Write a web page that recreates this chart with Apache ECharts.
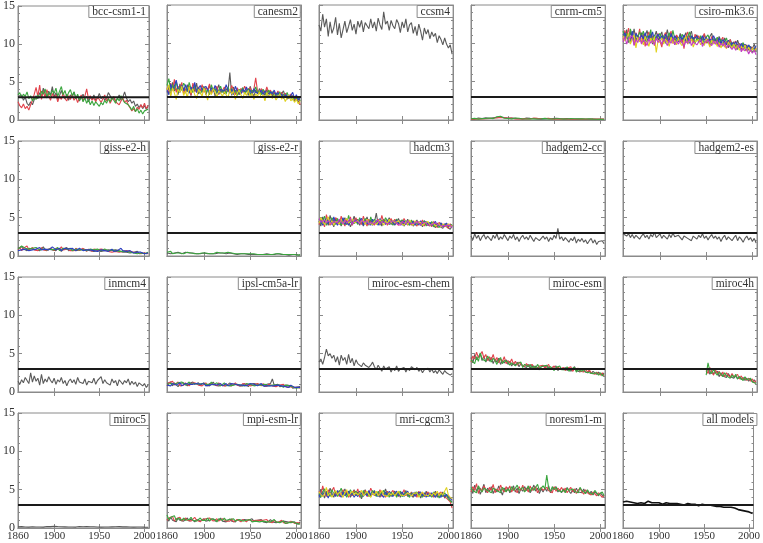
<!DOCTYPE html>
<html>
<head>
<meta charset="utf-8">
<script src="https://cdn.jsdelivr.net/npm/echarts@6/dist/echarts.min.js"></script>
<style>html,body{margin:0;padding:0;background:#fff;}#c{width:763px;height:543px;}</style>
</head>
<body>
<div id="c"></div>
<script>
// ---- data (every 2 years from 1860) ----
const START_YEAR = 1860;
const STEP = 2;
const X_MIN = 1860, X_MAX = 2005;
const Y_MIN = 0, Y_MAX = 15;
const THRESHOLD = 3;
const xTickLabels = [1860, 1900, 1950, 2000];
const xTickValues = [1900, 1950, 2000];

const panelNames = ['bcc-csm1-1','canesm2','ccsm4','cnrm-cm5','csiro-mk3.6',
  'giss-e2-h','giss-e2-r','hadcm3','hadgem2-cc','hadgem2-es',
  'inmcm4','ipsl-cm5a-lr','miroc-esm-chem','miroc-esm','miroc4h',
  'miroc5','mpi-esm-lr','mri-cgcm3','noresm1-m','all models'];

const bccA = [3.1,2.9,3.3,2.6,3.0,2.2,1.9,2.4,2.0,2.7, 3.2,2.8,3.6,3.1,4.2,3.4,2.9,3.8,3.3,4.4, 3.0,3.6,2.7,3.2,3.9,3.1,2.8,3.4,2.6,3.3, 3.0,3.7,2.9,3.2,2.5,3.0,3.4,2.8,3.1,2.4, 3.0,2.7,3.3,2.6,2.9,3.5,2.8,3.1,2.6,2.9, 3.6,3.2,2.7,3.0,2.5,2.8,3.3,2.6,3.0,3.7, 2.9,2.4,2.7,2.2,2.5,1.8,2.1,1.6,2.0,1.5, 1.9,1.4,1.8];
const bccB = [2.4,1.9,1.6,2.1,1.5,1.8,1.3,2.0,2.6,3.4, 4.3,3.1,4.6,2.7,3.8,2.9,4.0,3.2,2.6,3.5, 2.9,3.3,2.4,3.1,2.7,3.6,2.8,2.5,3.2,2.7, 3.4,2.6,3.0,2.3,2.9,3.3,2.5,3.1,4.1,2.8, 3.2,2.6,2.9,2.4,3.0,2.7,2.3,2.8,3.3,2.5, 2.9,2.2,2.7,3.1,2.4,2.6,2.0,2.5,2.9,2.3, 2.6,2.0,1.6,1.2,1.5,1.1,1.7,1.4,2.0,1.6, 2.2,1.5,1.9];
const bccC = [3.3,3.6,2.9,3.4,3.1,3.7,2.8,3.2,2.5,3.0, 2.7,3.3,2.9,3.8,3.4,4.1,3.0,3.6,3.2,3.9, 3.5,4.2,3.1,3.8,4.4,3.3,3.9,3.0,3.6,4.0, 3.2,3.7,2.8,3.4,2.6,3.1,2.4,2.9,2.2,2.7, 2.0,2.5,1.9,2.4,2.1,1.8,2.3,2.0,2.6,2.2, 2.8,2.4,3.0,2.6,2.2,2.9,2.5,3.2,2.7,2.3, 2.5,2.0,1.7,1.3,1.8,1.1,1.5,0.9,1.3,0.8, 1.2,1.0,1.4];

const canA = [3.6,4.4,3.2,4.9,3.8,4.1,3.3,4.7,3.9,4.2, 3.5,4.6,3.9,3.2,4.3,3.7,4.8,3.4,4.0,3.6, 4.4,3.3,3.9,4.5,3.6,4.2,3.1,3.8,4.6,3.5, 3.9,3.4,4.1,3.7,6.2,3.2,4.3,3.6,4.0,3.3, 3.8,4.2,3.5,3.9,3.2,4.4,3.6,3.1,3.9,3.4, 4.1,3.5,3.8,3.2,4.0,3.4,3.7,3.1,3.6,3.0, 3.5,2.9,3.4,3.8,3.1,2.7,3.3,2.8,3.2,2.5, 2.9,2.3,2.6];
const canB = [4.2,3.5,4.8,3.9,5.3,3.6,4.4,3.8,4.9,3.4, 4.1,3.7,4.5,3.2,4.8,4.0,3.6,4.3,3.8,4.6, 3.6,4.2,3.9,4.7,3.4,4.0,3.7,4.4,3.3,4.1, 3.8,4.3,3.5,4.0,3.6,4.5,3.9,3.3,4.2,3.7, 4.1,3.6,4.4,3.9,3.8,4.2,3.5,4.0,5.5,3.7, 3.4,4.1,3.8,3.5,4.3,3.6,3.9,3.3,3.7,3.2, 3.8,3.3,3.6,3.0,3.5,3.1,2.8,3.4,2.9,3.1, 2.6,3.0,2.0];
const canC = [4.5,5.4,3.8,4.6,4.0,5.0,3.6,4.3,3.9,4.8, 4.4,3.7,4.9,4.1,3.6,4.5,3.9,4.2,3.4,4.0, 4.3,3.6,4.0,3.3,4.6,3.8,4.1,3.5,3.9,4.4, 3.6,4.0,3.4,4.3,3.7,4.1,3.5,3.9,3.2,4.0, 3.7,4.2,3.4,3.8,4.1,3.3,3.9,3.6,4.3,3.5, 3.8,3.3,4.0,3.6,3.2,3.9,3.4,3.7,3.0,3.5, 3.2,3.7,2.9,3.4,3.0,3.6,2.8,3.2,2.6,3.0, 2.7,3.1,2.5];
const canD = [4.0,3.3,4.7,3.9,4.4,5.2,4.1,3.6,4.5,3.8, 4.6,4.0,3.5,4.3,3.8,4.9,3.6,4.1,4.5,3.9, 3.7,4.4,4.0,3.5,4.2,3.7,4.5,3.9,3.4,4.0, 4.2,3.7,4.6,3.9,3.5,4.0,3.3,4.4,3.8,3.6, 3.4,4.0,3.7,4.3,3.5,3.9,3.2,4.1,3.6,3.8, 3.5,3.9,3.3,3.8,3.6,3.1,3.7,3.4,3.9,3.3, 3.6,3.1,3.4,2.8,3.3,3.5,2.9,3.2,3.6,2.8, 3.3,2.6,2.9];
const canE = [3.9,4.6,3.1,4.2,3.5,2.7,4.0,3.6,4.4,3.2, 3.8,2.9,4.3,3.5,4.1,3.3,2.8,4.0,3.6,3.1, 4.2,3.4,2.6,3.9,3.3,4.1,3.6,3.0,3.8,3.5, 3.1,3.7,3.3,2.9,4.0,3.4,3.8,2.7,3.5,3.9, 3.3,2.8,3.6,3.2,3.9,3.0,3.5,2.7,3.4,3.1, 3.7,2.9,3.3,2.5,3.6,3.0,3.4,2.8,3.2,2.6, 3.0,3.4,2.7,3.1,2.4,2.9,3.2,2.5,2.8,2.3, 2.7,2.1,2.5];

const ccsm4A = [12.4,11.6,13.8,12.1,13.2,10.9,12.8,11.3,12.0,13.4, 11.1,12.6,10.7,11.8,12.9,11.4,12.2,13.1,11.7,12.5, 11.2,12.9,12.1,13.0,11.5,12.7,12.3,11.9,13.2,12.0, 12.8,11.6,13.3,12.4,11.8,14.1,12.5,12.9,11.7,13.0, 12.3,11.9,13.1,12.6,11.4,12.8,12.0,13.2,11.5,12.4, 12.7,11.3,12.2,11.0,12.5,11.6,10.4,12.0,11.2,11.8, 10.6,11.5,10.9,11.3,10.1,11.0,10.5,9.8,10.7,9.9, 9.4,9.8,8.6];

const cnA = [0.15,0.22,0.12,0.18,0.25,0.14,0.20,0.16,0.28,0.19, 0.23,0.15,0.30,0.21,0.35,0.45,0.38,0.26,0.32,0.20, 0.27,0.18,0.24,0.15,0.21,0.28,0.17,0.22,0.14,0.19, 0.25,0.16,0.21,0.13,0.19,0.24,0.15,0.20,0.12,0.18, 0.14,0.21,0.17,0.12,0.19,0.15,0.22,0.13,0.18,0.11, 0.16,0.12,0.19,0.14,0.10,0.17,0.13,0.15,0.11,0.16, 0.12,0.15,0.10,0.13,0.09,0.14,0.11,0.12,0.08,0.13, 0.10,0.12,0.09];
const cnB = [0.12,0.18,0.10,0.24,0.15,0.20,0.13,0.22,0.17,0.26, 0.19,0.31,0.22,0.40,0.28,0.52,0.33,0.24,0.29,0.18, 0.23,0.16,0.27,0.19,0.14,0.22,0.18,0.25,0.15,0.21, 0.17,0.23,0.14,0.19,0.26,0.16,0.21,0.13,0.20,0.15, 0.19,0.13,0.22,0.16,0.11,0.18,0.14,0.20,0.12,0.17, 0.14,0.19,0.11,0.16,0.13,0.18,0.10,0.15,0.12,0.14, 0.11,0.16,0.12,0.09,0.14,0.10,0.13,0.08,0.12,0.10, 0.13,0.09,0.11];
const cnC = [0.17,0.13,0.21,0.16,0.11,0.23,0.18,0.14,0.20,0.15, 0.26,0.20,0.18,0.33,0.42,0.36,0.49,0.30,0.22,0.27, 0.19,0.24,0.15,0.20,0.26,0.16,0.23,0.18,0.13,0.22, 0.14,0.20,0.17,0.24,0.15,0.19,0.13,0.22,0.16,0.12, 0.21,0.16,0.12,0.19,0.14,0.23,0.17,0.11,0.16,0.20, 0.12,0.17,0.14,0.10,0.18,0.13,0.16,0.11,0.15,0.12, 0.15,0.10,0.13,0.11,0.16,0.09,0.12,0.14,0.10,0.11, 0.08,0.12,0.10];

const csA = [11.2,10.4,11.8,10.1,11.5,10.7,11.9,10.3,11.0,10.6, 11.4,10.2,10.9,11.7,10.5,11.3,9.9,10.8,11.6,10.4, 10.9,11.5,10.1,10.7,11.8,10.3,11.2,10.6,9.8,11.0, 10.5,11.3,10.0,10.8,11.4,10.2,10.9,11.6,10.4,10.7, 11.1,10.3,10.8,9.9,11.2,10.5,10.0,10.9,11.3,10.2, 10.6,9.8,10.9,10.3,9.6,10.7,10.1,9.4,10.5,9.9, 10.2,9.5,10.4,9.7,9.2,10.0,9.4,9.8,9.1,9.6, 9.3,9.9,9.0];
const csB = [10.5,11.7,10.9,12.0,10.3,11.1,9.8,11.4,10.6,11.9, 10.1,11.2,9.6,10.8,11.5,10.4,11.0,9.7,10.7,11.3, 10.3,9.5,10.9,11.4,10.2,10.8,11.6,10.0,10.6,11.1, 11.0,10.1,10.7,9.3,10.9,11.5,10.3,10.8,10.0,11.2, 10.4,11.0,10.2,10.7,11.3,10.0,10.6,9.8,10.9,10.3, 10.0,10.6,9.7,10.4,10.8,9.5,10.2,9.9,10.5,9.6, 9.8,10.3,9.4,10.0,9.6,9.1,9.9,9.3,9.7,9.0, 9.5,8.9,9.4];
const csC = [11.6,10.8,11.3,10.2,11.9,10.9,10.4,11.2,10.7,11.5, 10.9,11.6,10.3,11.0,10.6,11.8,10.2,11.1,10.5,10.9, 11.3,10.5,11.0,10.0,10.8,11.4,10.3,11.7,10.6,10.2, 10.8,10.3,11.2,10.6,10.1,10.9,11.5,10.4,10.8,10.0, 10.7,10.1,11.0,10.5,10.0,10.8,11.1,10.3,9.9,10.6, 10.3,10.8,10.0,10.5,9.8,10.2,10.7,9.7,10.1,9.5, 10.0,9.6,9.2,9.9,9.5,10.1,9.3,9.0,9.7,9.2, 8.8,9.4,9.1];
const csD = [10.8,11.4,10.6,11.1,10.0,11.6,10.5,11.3,10.9,10.4, 11.1,10.6,11.4,10.2,11.0,10.7,11.5,10.3,10.8,11.2, 10.6,11.0,10.4,11.2,10.7,10.1,11.3,10.5,11.0,10.8, 10.2,10.9,10.5,11.1,10.3,10.7,10.0,11.0,10.6,10.4, 10.9,10.5,10.2,11.0,10.4,10.8,10.1,10.6,10.3,11.0, 10.4,10.0,10.7,9.9,10.5,10.2,9.8,10.4,9.6,10.1, 9.7,10.2,9.8,9.4,10.0,9.5,9.9,9.3,9.8,9.4, 9.6,9.2,9.7];
const csE = [11.0,10.3,10.7,11.3,9.9,10.6,11.1,9.4,10.8,10.2, 10.6,9.8,10.9,10.3,9.6,10.7,10.1,10.9,8.8,10.4, 10.1,10.7,9.9,10.5,10.2,9.6,10.8,10.0,10.4,9.8, 10.7,10.0,9.7,10.4,10.9,9.9,10.3,10.6,9.5,10.2, 10.0,10.5,9.8,10.3,9.7,10.6,10.2,9.5,10.4,9.9, 10.2,9.6,10.1,9.4,10.0,9.8,9.3,10.2,9.7,9.4, 9.9,9.3,9.7,9.1,9.6,9.2,9.8,9.0,9.5,8.9, 9.4,9.0,9.3];
const csF = [10.2,10.9,9.9,10.6,10.4,11.0,9.7,10.5,10.1,10.8, 9.9,10.5,10.2,9.7,10.6,10.0,10.4,9.8,10.7,10.1, 10.5,9.9,10.6,10.2,9.7,10.4,10.0,10.7,9.8,10.3, 9.9,10.5,10.1,9.6,10.3,10.0,10.6,9.7,10.2,10.4, 9.8,10.2,10.5,9.6,10.1,9.9,10.4,10.0,9.7,10.3, 9.9,10.3,9.5,10.0,9.7,10.1,9.4,9.8,10.0,9.2, 9.6,9.1,9.5,9.8,8.9,9.4,9.0,9.3,8.6,9.2, 8.7,9.1,8.5];

const ghA = [1.0,0.8,1.2,0.9,1.1,0.7,1.0,0.8,0.9,1.1, 0.8,1.0,0.7,0.9,1.2,0.8,1.0,0.9,0.7,0.8, 0.9,0.7,1.0,0.8,0.6,0.9,0.8,1.1,0.7,0.9, 0.8,1.0,0.7,0.9,0.8,0.6,0.9,0.7,0.8,1.0, 0.7,0.9,0.6,0.8,0.7,0.9,0.6,0.8,0.7,0.6, 0.8,0.6,0.7,0.5,0.8,0.6,0.7,0.9,0.5,0.6, 0.5,0.7,0.4,0.6,0.5,0.4,0.6,0.3,0.5,0.4, 0.5,0.3,0.4];
const ghB = [0.8,1.1,0.7,1.0,0.9,1.3,0.8,1.0,1.1,0.8, 1.0,0.7,0.9,1.1,0.8,1.0,0.7,0.9,1.0,0.8, 0.7,1.0,0.8,0.9,1.2,0.8,0.7,0.9,1.0,0.7, 0.9,0.7,1.0,0.8,0.7,0.9,1.0,0.8,0.6,0.9, 0.8,0.6,0.9,0.7,0.8,0.6,0.9,0.7,0.8,0.7, 0.6,0.8,0.5,0.7,0.6,0.8,0.5,0.7,0.6,0.5, 0.7,0.5,0.6,0.4,0.5,0.6,0.4,0.5,0.3,0.5, 0.4,0.5,0.3];
const ghC = [0.9,1.0,1.3,1.5,1.0,1.2,0.9,0.8,1.0,0.9, 1.1,0.9,0.8,1.0,0.9,1.1,0.8,1.0,0.9,1.0, 0.8,0.9,1.1,0.7,0.9,1.0,0.8,0.9,0.7,1.0, 0.7,0.8,0.9,1.0,0.8,0.7,0.8,0.9,0.7,0.8, 0.9,0.7,0.8,0.6,0.9,0.8,0.7,0.6,0.9,0.7, 0.7,0.5,0.8,0.6,0.7,0.5,0.6,0.8,0.6,0.7, 0.6,0.4,0.5,0.6,0.4,0.5,0.3,0.5,0.4,0.6, 0.3,0.4,0.5];
const ghD = [0.7,0.9,0.8,0.6,0.9,1.0,0.7,0.9,0.8,1.0, 0.9,0.8,1.1,0.8,0.7,0.9,1.1,0.8,0.9,1.2, 1.0,0.8,0.9,1.0,0.7,0.8,1.0,0.8,0.9,0.8, 1.0,0.8,0.7,0.9,1.0,0.8,0.7,0.9,0.8,0.7, 0.8,0.9,0.7,0.8,0.6,0.7,0.8,0.9,0.7,0.8, 0.6,0.7,0.9,0.6,0.5,0.7,0.6,1.0,0.7,0.5, 0.6,0.5,0.7,0.5,0.4,0.6,0.5,0.4,0.5,0.4, 0.3,0.5,0.4];

const grA = [0.5,0.4,0.6,0.3,0.5,0.4,0.6,0.4,0.5,0.3, 0.4,0.5,0.3,0.4,0.5,0.3,0.4,0.3,0.5,0.4, 0.3,0.4,0.5,0.3,0.4,0.3,0.4,0.5,0.3,0.4, 0.3,0.4,0.3,0.5,0.3,0.4,0.3,0.3,0.4,0.3, 0.4,0.3,0.2,0.3,0.4,0.3,0.2,0.3,0.3,0.2, 0.3,0.2,0.3,0.2,0.3,0.2,0.3,0.2,0.2,0.3, 0.2,0.3,0.2,0.2,0.1,0.2,0.3,0.2,0.1,0.2, 0.2,0.1,0.2];
const grB = [0.4,0.5,0.3,0.5,0.4,0.3,0.5,0.4,0.3,0.4, 0.5,0.3,0.4,0.3,0.4,0.4,0.3,0.4,0.3,0.5, 0.4,0.3,0.3,0.4,0.3,0.4,0.3,0.3,0.4,0.3, 0.4,0.3,0.3,0.2,0.4,0.3,0.3,0.4,0.2,0.3, 0.3,0.2,0.3,0.3,0.2,0.3,0.2,0.3,0.2,0.3, 0.2,0.3,0.2,0.2,0.3,0.2,0.2,0.3,0.2,0.2, 0.3,0.2,0.2,0.1,0.2,0.2,0.1,0.2,0.2,0.1, 0.2,0.2,0.1];

const hcA = [4.6,3.9,5.1,4.3,4.8,4.0,5.3,4.4,3.8,4.9, 4.2,4.7,3.9,4.5,5.0,4.1,4.6,3.8,4.4,5.2, 4.3,4.8,4.0,4.6,3.9,4.5,5.1,4.2,4.7,4.0, 4.4,5.6,4.1,4.6,3.9,4.8,4.2,4.5,5.0,4.1, 4.6,4.0,4.4,4.9,4.2,4.7,3.9,4.3,4.8,4.1, 4.5,3.9,4.3,4.7,4.0,4.4,3.8,4.6,4.1,4.3, 3.9,4.4,4.0,3.7,4.3,3.9,4.1,3.6,4.2,3.8, 4.0,3.5,3.9];
const hcB = [4.1,4.9,4.4,3.8,5.4,4.5,4.0,4.8,4.3,5.0, 4.7,4.1,5.2,4.4,3.9,4.8,4.2,5.1,4.0,4.6, 5.0,4.2,4.7,4.1,5.2,4.4,3.9,4.8,4.3,4.6, 4.0,4.5,4.8,4.2,5.3,4.4,4.7,4.0,4.5,4.9, 4.2,4.8,4.3,4.0,4.6,4.1,4.9,4.4,4.0,4.5, 4.0,4.6,4.2,3.9,4.5,4.1,4.7,3.9,4.4,4.0, 4.3,3.8,4.5,4.1,3.7,4.4,3.9,4.2,3.8,4.1, 3.6,4.2,3.9];
const hcC = [4.8,4.2,4.6,5.2,4.0,4.7,4.3,5.0,4.6,4.1, 4.9,4.4,4.0,4.8,4.5,4.1,5.3,4.3,4.7,4.2, 4.6,4.1,5.0,4.5,4.2,4.9,4.4,4.0,5.1,4.3, 4.8,4.2,4.5,4.0,4.7,4.3,5.0,4.6,4.1,4.4, 4.0,4.5,4.8,4.3,4.1,4.7,4.2,4.6,4.3,4.0, 4.7,4.2,4.5,4.1,4.4,4.0,4.3,4.6,3.9,4.4, 4.1,4.5,3.8,4.2,4.0,3.7,4.3,4.0,3.8,4.2, 3.9,3.7,4.1];
const hcD = [4.4,4.7,4.0,4.5,4.9,4.2,4.6,4.1,5.1,4.4, 4.0,4.6,4.3,5.0,4.1,4.5,4.0,4.7,4.2,4.4, 4.7,4.3,4.5,4.9,4.0,4.6,4.2,4.5,4.0,4.8, 4.3,4.6,4.0,4.9,4.2,4.5,4.1,4.7,4.3,4.6, 4.4,4.1,4.7,4.2,4.5,4.0,4.6,4.1,4.5,4.2, 4.2,4.5,4.0,4.4,4.1,4.6,4.2,4.0,4.5,4.1, 4.4,4.0,4.2,4.5,3.9,4.1,4.3,3.8,4.0,4.3, 3.9,4.1,3.8];
const hcE = [4.3,5.0,4.5,4.1,4.7,5.1,4.2,4.6,4.0,4.5, 4.5,4.2,4.8,4.1,4.6,4.9,4.3,4.1,4.8,4.3, 4.1,4.6,4.3,4.2,4.7,4.1,4.8,4.3,4.5,4.1, 4.6,4.1,4.3,4.7,4.4,4.0,4.6,4.2,4.8,4.3, 4.7,4.3,4.1,4.6,4.3,4.4,4.0,4.5,4.1,4.7, 4.3,4.0,4.6,4.3,4.2,4.4,4.0,4.3,4.2,4.5, 4.0,4.2,4.3,3.9,4.1,4.2,3.8,4.1,4.2,3.9, 4.2,3.8,4.0];
const hcF = [4.9,4.4,4.2,4.7,4.3,4.6,4.8,4.2,4.5,4.7, 4.3,4.8,4.5,4.2,4.7,4.3,4.5,4.9,4.1,4.6, 4.4,4.5,4.2,4.7,4.4,4.3,4.6,4.1,4.4,4.5, 4.2,4.4,4.7,4.1,4.5,4.6,4.3,4.4,4.2,4.5, 4.3,4.6,4.2,4.4,4.0,4.5,4.3,4.2,4.6,4.3, 4.4,4.2,4.1,4.5,4.3,4.0,4.4,4.2,4.3,4.0, 4.2,4.1,3.9,4.3,4.1,4.0,4.2,3.9,4.1,4.0, 3.8,4.0,3.7];

const hg2ccA = [2.6,2.1,2.9,2.3,2.7,2.0,2.5,2.8,2.2,2.6, 2.4,2.0,2.7,2.3,2.9,2.1,2.5,2.2,2.8,2.4, 2.0,2.6,2.3,2.8,2.1,2.5,1.9,2.4,2.7,2.2, 2.5,2.1,2.7,2.3,1.9,2.4,2.6,2.0,2.3,2.6, 2.2,2.5,1.9,2.4,2.1,2.7,2.3,3.6,2.2,2.5, 2.0,2.4,2.1,1.8,2.3,2.0,2.5,1.7,2.2,1.9, 2.3,1.8,2.1,1.6,2.0,2.3,1.7,2.1,1.5,1.9, 1.7,2.0,1.6];
const hg2esA = [2.9,3.1,2.6,2.9,2.4,2.8,2.3,2.7,2.5,2.2, 2.6,2.9,2.4,2.7,2.2,2.8,2.5,3.1,2.4,2.6, 2.9,2.3,2.7,2.5,2.2,2.8,2.4,3.0,2.5,2.3, 2.7,2.4,2.1,2.6,2.8,2.3,2.5,2.0,2.6,2.4, 2.2,2.7,2.4,2.9,2.3,2.6,2.1,2.5,2.8,2.3, 2.6,2.2,2.5,1.9,2.4,2.7,2.1,2.5,2.3,2.0, 2.4,2.7,2.0,2.5,2.2,1.8,2.3,2.6,2.1,2.4, 1.9,2.3,1.7];
const inmA = [1.4,1.0,1.6,1.2,1.9,1.5,1.1,2.5,1.3,2.1, 1.4,1.8,0.9,2.3,1.1,1.7,1.3,2.0,1.5,1.2, 1.8,1.0,1.6,1.3,1.9,1.1,1.5,0.8,1.4,1.7, 1.2,1.6,1.0,1.9,1.3,1.5,1.1,1.7,0.9,1.4, 1.6,1.2,1.8,1.0,1.5,1.3,2.0,1.1,1.6,1.2, 1.4,0.9,1.7,1.2,1.5,0.8,1.6,1.3,1.0,1.5, 1.2,1.7,0.9,1.4,1.0,1.3,0.7,1.2,1.0,0.8, 1.1,0.6,0.9];

const ipA = [1.1,0.9,1.3,0.8,1.2,1.0,0.7,1.1,0.9,1.2, 1.0,0.8,1.1,0.9,1.3,1.0,0.8,1.2,0.9,1.0, 1.2,0.9,1.1,0.8,1.0,1.3,0.9,1.1,0.8,1.0, 0.9,1.1,0.8,1.0,1.2,0.9,0.7,1.0,1.1,0.8, 1.0,0.8,1.1,0.9,0.7,1.0,0.8,1.1,0.9,1.0, 0.8,1.0,0.9,0.7,1.0,0.8,1.1,1.7,0.9,0.8, 1.0,0.7,0.9,0.8,0.6,0.9,0.7,0.8,0.5,0.7, 0.6,0.5,0.7];
const ipB = [0.8,1.2,1.0,1.4,0.9,1.1,1.3,0.8,1.0,0.9, 1.2,1.0,0.8,1.1,0.9,1.2,1.0,0.9,1.1,0.8, 1.0,1.2,0.8,1.1,0.9,1.0,1.1,0.8,1.2,0.9, 1.1,0.8,1.0,0.9,1.1,0.8,1.0,1.2,0.9,1.0, 0.8,1.1,0.9,1.0,1.2,0.8,1.0,0.9,0.7,1.1, 0.9,0.8,1.1,0.9,0.7,1.0,0.9,0.8,1.0,0.7, 0.8,0.9,0.7,1.0,0.8,0.6,0.8,0.7,0.9,0.6, 0.7,0.6,0.5];
const ipC = [1.0,0.8,1.1,1.3,1.0,0.8,1.2,1.0,1.3,1.1, 0.9,1.1,1.3,1.0,0.8,1.1,1.2,1.0,0.8,1.1, 0.9,1.0,1.2,1.0,1.3,0.9,1.0,1.2,1.0,0.8, 1.0,1.2,0.9,1.1,0.8,1.0,0.9,0.8,1.0,1.1, 0.9,1.0,0.8,1.1,0.9,1.0,1.1,0.8,1.0,0.9, 1.0,0.9,0.8,1.0,0.9,0.8,1.0,0.9,0.7,0.9, 0.7,0.9,0.8,0.6,0.9,0.7,0.8,0.6,0.7,0.8, 0.5,0.7,0.6];
const ipD = [0.9,1.0,0.8,1.1,1.3,0.9,1.0,1.2,0.8,1.0, 1.1,0.9,1.0,1.2,1.0,0.9,1.1,1.3,1.0,0.9, 1.1,0.8,1.0,0.9,1.1,1.0,1.2,0.9,1.0,1.1, 0.8,1.0,1.1,0.8,1.0,1.1,0.9,1.0,0.8,0.9, 1.1,0.9,1.0,0.8,1.0,1.1,0.9,1.0,1.1,0.8, 0.9,1.1,0.8,1.0,0.8,0.9,0.8,1.0,0.8,1.0, 0.9,0.7,0.8,0.9,0.7,0.8,0.6,0.9,0.7,0.6, 0.8,0.6,0.6];

const mecA = [3.9,4.3,3.6,4.5,5.6,4.7,5.0,4.4,4.8,3.9, 4.6,3.5,4.8,4.1,4.5,3.6,4.9,3.8,4.4,3.4, 4.2,3.7,3.9,3.3,3.8,3.5,3.7,3.2,3.5,3.9, 3.3,2.9,3.5,3.1,2.7,3.4,3.0,2.8,3.3,2.6, 3.1,2.8,3.4,2.7,3.0,2.9,3.2,2.6,3.1,2.8, 3.3,3.5,2.9,3.2,2.7,3.0,2.5,2.9,2.7,3.1, 2.6,3.0,2.5,2.8,2.4,2.9,2.6,2.3,2.8,2.5, 2.7,2.2,2.4];

const meA = [4.5,3.8,4.9,4.2,4.6,5.0,4.1,4.7,3.9,4.4, 4.0,4.5,3.7,4.3,3.9,4.4,3.6,4.1,3.8,4.2, 3.6,4.0,3.4,3.8,3.5,3.9,3.3,3.7,3.4,3.6, 3.2,3.6,3.1,3.5,3.0,3.4,3.2,2.9,3.3,3.1, 3.4,3.0,3.3,2.9,3.2,3.0,3.4,2.8,3.1,3.3, 2.9,3.2,2.8,3.1,2.7,3.0,3.3,2.8,2.9,2.6, 3.0,2.7,2.9,2.5,2.8,2.4,2.7,2.5,2.3,2.6, 2.4,2.2,2.5];
const meB = [3.9,4.7,4.3,5.2,4.5,4.8,5.3,4.4,4.9,4.1, 4.6,4.2,4.9,4.0,4.5,3.8,4.3,4.0,4.6,3.7, 4.1,3.8,4.3,3.6,4.0,3.5,3.9,3.6,3.8,3.3, 3.7,3.4,3.2,3.6,3.3,3.5,3.0,3.4,3.2,3.5, 3.1,3.3,3.6,3.0,3.2,3.4,2.9,3.3,3.0,3.1, 3.2,2.8,3.1,2.9,3.3,2.7,3.0,2.8,3.1,2.7, 2.8,2.6,3.0,2.6,2.9,2.5,2.7,2.3,2.6,2.4, 2.2,2.5,2.1];
const meC = [4.2,4.4,3.7,4.6,4.0,5.1,4.3,4.5,4.0,4.7, 4.3,3.9,4.4,4.1,3.6,4.2,4.5,3.7,4.1,3.9, 3.9,3.5,3.8,4.0,3.4,3.7,3.5,3.9,3.2,3.6, 3.5,3.3,3.6,3.0,3.4,3.1,3.6,3.2,3.0,3.4, 3.2,3.5,3.0,3.3,3.1,2.8,3.2,3.0,3.4,2.9, 3.1,2.9,3.3,2.7,3.0,2.8,3.2,2.6,2.9,2.8, 2.7,3.0,2.6,2.8,2.5,2.7,2.4,2.6,2.5,2.2, 2.5,2.1,2.3];

const MIROC4H_START = 1950;
const m4A = [2.6,3.1,2.3,2.8,2.4,2.2,2.7,2.0,2.5,2.1, 2.3,1.9,2.4,2.0,2.2,1.8,2.1,1.7,2.0,1.6, 1.9,1.5,1.8,1.4,1.7,1.3,1.6,1.2];
const m4B = [2.9,2.4,3.2,2.6,2.2,2.9,2.4,2.7,2.1,2.6, 2.0,2.5,2.2,1.9,2.4,2.0,1.8,2.3,1.7,2.1, 1.6,1.9,1.5,1.8,1.4,1.7,1.2,1.5];
const m4C = [2.2,3.8,2.7,2.4,3.0,2.5,2.2,2.6,2.3,2.0, 2.5,2.1,2.3,1.8,2.2,1.9,2.3,1.7,2.0,1.8, 1.5,2.0,1.6,1.4,1.8,1.3,1.5,1.1];

const m5A = [0.15,0.12,0.18,0.10,0.14,0.16,0.11,0.13,0.17,0.12, 0.14,0.19,0.13,0.16,0.11,0.15,0.20,0.14,0.18,0.13, 0.22,0.16,0.19,0.14,0.17,0.21,0.15,0.18,0.13,0.16, 0.14,0.18,0.12,0.16,0.20,0.14,0.17,0.13,0.19,0.15, 0.17,0.13,0.16,0.20,0.14,0.18,0.12,0.16,0.14,0.19, 0.13,0.17,0.15,0.11,0.16,0.14,0.18,0.12,0.15,0.13, 0.16,0.12,0.14,0.17,0.11,0.15,0.13,0.10,0.14,0.12, 0.11,0.13,0.10];

const mpA = [1.2,0.9,1.4,1.0,1.1,0.8,1.3,1.0,1.2,0.9, 1.1,1.3,0.9,1.2,1.0,0.8,1.1,1.3,0.9,1.0, 1.2,0.9,1.1,1.0,0.8,1.2,0.9,1.1,1.0,1.3, 0.9,1.1,0.8,1.0,1.2,0.9,1.0,0.8,1.1,0.9, 1.0,0.8,1.1,0.9,1.0,0.8,1.2,0.9,0.8,1.0, 0.9,1.1,0.8,1.0,0.7,0.9,1.1,0.8,0.9,0.7, 0.9,0.8,0.6,0.9,0.7,0.8,1.0,0.7,0.6,0.8, 0.7,0.5,0.8];
const mpB = [1.0,1.3,1.1,1.5,0.9,1.2,1.0,1.4,0.9,1.1, 1.3,1.0,1.2,0.9,1.1,1.4,1.0,1.2,0.8,1.1, 0.9,1.2,1.0,1.3,1.1,0.9,1.0,1.2,0.9,1.1, 1.2,1.0,0.9,1.1,0.9,1.2,0.8,1.0,1.1,0.9, 0.8,1.1,1.0,0.8,1.1,1.0,0.9,1.1,1.0,0.8, 1.0,0.8,1.0,0.9,1.1,0.8,0.9,0.7,1.0,0.9, 0.7,0.9,1.0,0.7,0.9,0.6,0.8,0.9,0.7,0.6, 0.8,0.7,0.6];
const mpC = [1.7,1.1,1.4,1.2,1.6,1.0,1.3,1.1,1.0,1.3, 1.0,1.2,1.1,1.4,1.0,1.2,0.9,1.1,1.3,1.0, 1.1,1.0,1.3,0.9,1.2,1.0,1.1,0.8,1.2,1.0, 1.0,1.3,1.0,0.8,1.1,1.0,1.2,0.9,1.0,1.1, 1.1,0.9,0.8,1.0,0.9,1.1,0.8,1.0,0.9,1.1, 0.8,1.0,0.9,1.1,0.8,1.0,0.8,0.9,1.1,0.8, 1.0,0.7,0.8,0.9,0.6,0.8,0.7,0.9,0.8,0.6, 0.6,0.8,0.5];

const mrA = [4.2,5.0,4.6,3.9,4.8,4.3,5.2,4.5,4.0,4.7, 4.4,4.9,4.1,4.6,5.1,4.3,4.8,4.0,4.5,5.0, 4.2,4.7,4.4,3.8,4.6,5.0,4.3,4.8,4.1,4.5, 4.9,4.2,4.6,4.0,4.7,4.4,5.1,4.3,4.6,4.1, 4.5,4.8,4.2,4.7,4.0,4.6,4.3,4.9,4.1,4.5, 4.4,4.0,4.7,4.2,4.6,3.9,4.5,4.1,4.8,4.3, 4.6,4.1,4.4,4.8,4.0,4.5,4.2,4.7,3.9,4.3, 4.0,3.6,3.4];
const mrB = [4.8,4.3,5.5,4.6,4.1,5.0,4.4,4.9,5.3,4.2, 4.7,4.1,4.5,5.0,4.3,4.8,4.0,4.6,4.2,4.9, 4.5,5.1,4.0,4.6,4.3,4.9,4.1,4.4,5.2,4.6, 4.2,4.7,4.4,5.0,4.1,4.5,4.0,4.8,4.3,4.6, 4.9,4.3,4.6,4.1,4.7,4.4,5.0,4.2,4.6,4.3, 4.7,4.2,4.5,4.0,4.8,4.3,4.6,4.1,4.4,4.7, 4.2,4.5,4.0,4.6,4.3,4.1,4.7,4.2,4.4,3.9, 4.1,3.4,2.6];
const mrC = [4.5,4.0,4.7,5.1,4.3,4.6,4.1,5.0,4.4,4.8, 4.1,4.6,5.2,4.3,4.7,4.0,4.5,5.0,4.4,4.2, 4.8,4.2,4.6,4.0,4.9,4.3,4.7,4.1,4.4,4.9, 4.5,4.1,4.8,4.3,4.5,4.9,4.2,4.6,4.0,4.7, 4.2,4.6,4.0,4.5,4.8,4.1,4.4,4.7,4.3,4.0, 4.6,4.3,4.1,4.7,4.2,4.5,4.0,4.4,4.6,4.1, 4.4,4.0,4.7,4.2,4.5,3.9,4.4,4.1,4.6,4.2, 3.8,4.0,3.3];
const mrD = [4.0,4.6,4.2,4.8,4.5,3.9,4.7,4.2,4.6,4.1, 4.9,4.4,4.0,4.7,4.2,4.5,4.8,4.3,4.6,4.0, 4.4,4.1,4.8,4.5,4.1,4.6,4.2,4.9,4.3,4.1, 4.7,4.4,4.1,4.6,4.3,4.0,4.7,4.2,4.8,4.4, 4.1,4.5,4.8,4.2,4.4,4.7,4.1,4.5,4.8,4.2, 4.3,4.6,4.1,4.5,4.3,4.7,4.2,4.6,4.0,4.5, 4.1,4.6,4.3,4.0,4.5,4.3,4.0,4.5,4.1,4.4, 4.2,3.9,3.6];
const mrE = [4.7,4.4,4.1,4.5,5.3,4.2,4.6,4.0,4.5,4.9, 4.3,4.7,4.5,4.0,4.6,5.0,4.2,4.4,4.8,4.3, 4.6,4.3,4.5,4.9,4.2,4.4,4.8,4.3,4.0,4.6, 4.3,4.8,4.2,4.5,4.9,4.3,4.5,4.1,4.6,4.3, 4.6,4.2,4.4,4.8,4.3,4.5,4.2,4.4,4.6,4.8, 4.2,4.5,4.3,4.6,4.0,4.4,4.7,4.3,4.5,4.2, 4.5,4.2,4.6,4.3,4.8,4.2,4.6,4.3,4.5,5.3, 4.3,4.0,3.8];

const nrA = [5.1,4.5,5.6,4.8,5.3,4.4,5.0,5.7,4.6,5.2, 4.8,5.4,4.5,5.1,4.7,5.5,4.9,4.3,5.2,4.8, 5.3,4.6,5.0,5.5,4.7,5.2,4.5,5.1,4.8,5.4, 4.9,5.3,4.6,5.0,5.6,4.8,5.2,4.5,5.1,4.7, 5.2,4.8,5.5,4.6,5.1,4.9,5.4,4.7,5.0,4.6, 5.1,4.7,5.3,4.8,4.5,5.0,4.6,5.2,4.7,4.9, 4.6,5.1,4.5,4.9,4.4,4.8,4.3,4.7,4.5,4.2, 4.6,4.3,4.1];
const nrB = [4.7,5.4,4.9,5.8,4.5,5.2,4.8,5.5,5.0,4.6, 5.3,4.9,5.7,4.6,5.1,4.8,5.6,5.0,4.7,5.4, 4.9,5.5,4.7,5.2,5.0,4.6,5.4,4.9,5.6,4.8, 5.2,4.7,5.5,4.9,5.1,5.4,4.6,5.0,5.3,4.9, 4.8,5.3,4.9,5.1,4.6,5.4,4.8,5.2,4.9,5.3, 4.8,5.2,4.6,5.0,5.3,4.7,5.1,4.5,4.9,5.2, 4.7,4.4,5.0,4.6,4.8,4.3,4.7,4.5,4.2,4.6, 4.4,4.0,4.3];
const nrC = [5.3,4.9,5.1,4.6,5.5,5.0,4.7,5.2,5.4,4.9, 5.0,4.6,5.2,5.4,4.9,5.1,4.6,5.3,5.0,4.7, 5.1,4.8,5.4,4.9,5.2,5.6,4.9,5.0,5.3,4.7, 5.0,5.5,4.8,5.3,4.9,5.1,5.7,4.9,5.2,5.5, 5.1,6.9,5.2,4.8,5.4,5.0,5.3,4.9,5.1,4.7, 5.0,4.6,5.2,4.9,4.7,5.1,4.8,5.0,4.6,5.3, 4.9,4.7,4.5,5.0,4.6,4.8,4.4,4.9,4.6,4.3, 4.5,4.7,4.2];

const allA = [3.4,3.3,3.5,3.3,3.4,3.2,3.3,3.4,3.2,3.3, 3.3,3.4,3.2,3.3,3.5,3.4,3.3,3.2,3.3,3.2, 3.3,3.2,3.1,3.2,3.3,3.1,3.2,3.1,3.2,3.1, 3.2,3.0,3.1,3.2,3.0,3.1,3.2,3.0,3.1,3.0, 3.1,3.0,2.9,3.0,3.1,2.9,3.0,2.9,3.0,2.8, 2.9,3.0,2.8,2.9,2.8,2.9,2.7,2.8,2.7,2.6, 2.7,2.5,2.6,2.5,2.4,2.5,2.3,2.4,2.2,2.3, 2.1,2.2,1.9];

const panelSeries = [
  [bccA,bccB,bccC], [canA,canB,canC,canD,canE], [ccsm4A], [cnA,cnB,cnC], [csA,csB,csC,csD,csE,csF],
  [ghA,ghB,ghC,ghD], [grB,grA], [hcA,hcB,hcC,hcD,hcE,hcF], [hg2ccA], [hg2esA],
  [inmA], [ipA,ipB,ipC,ipD], [mecA], [meA,meB,meC], [m4A,m4B,m4C],
  [m5A], [mpA,mpB,mpC], [mrA,mrB,mrC,mrD,mrE], [nrA,nrB,nrC], [allA]
];
const panelStart = panelNames.map(n => n === 'miroc4h' ? MIROC4H_START : START_YEAR);

// ---- styling ----
const palette = ['#5a5a5a','#e2434c','#3aa63e','#2d3fc0','#e0d21e','#c23cc4','#111111'];
const panelColorIdx = panelNames.map(n => n === 'giss-e2-r' ? [0, 2] : (n === 'all models' ? [6] : [0,1,2,3,4,5]));
const FONT = 'Liberation Serif, DejaVu Serif, serif';
const FRAME = '#8a8a8a';
const COLS = 5, ROWS = 4;
const PX = 15, PY = 5, PW = 134, PH = 115, DX = 152, DY = 136;
const W = 763;

const grids = [], xAxes = [], yAxes = [], series = [], titles = [];
panelNames.forEach((name, i) => {
  const r = Math.floor(i / COLS), c = i % COLS;
  const left = PX + c * DX, top = PY + r * DY;
  grids.push({left: left, top: top, width: PW, height: PH, show: true, borderColor: FRAME, borderWidth: 1, backgroundColor: '#fff'});
  const tickStyle = {lineStyle: {color: FRAME, width: 1}};
  xAxes.push({
    type: 'value', gridIndex: i, min: X_MIN, max: X_MAX, position: 'bottom',
    axisLine: {show: true, lineStyle: {color: FRAME}},
    axisTick: Object.assign({show: true, inside: true, length: 4, customValues: xTickValues}, tickStyle),
    axisLabel: {show: r === ROWS - 1, customValues: xTickLabels, formatter: v => String(v),
      fontFamily: FONT, fontSize: 11, color: '#333', margin: 3},
    splitLine: {show: false}
  });
  xAxes.push({
    type: 'value', gridIndex: i, min: X_MIN, max: X_MAX, position: 'top',
    axisLine: {show: true, lineStyle: {color: FRAME}},
    axisTick: Object.assign({show: true, inside: true, length: 4, customValues: xTickValues}, tickStyle),
    axisLabel: {show: false}, splitLine: {show: false}
  });
  ['left','right'].forEach(pos => {
    yAxes.push({
      type: 'value', gridIndex: i, min: Y_MIN, max: Y_MAX, interval: 5, position: pos,
      axisLine: {show: true, lineStyle: {color: FRAME}},
      axisTick: Object.assign({show: true, inside: true, length: 4}, tickStyle),
      minorTick: {show: true, splitNumber: 5, length: 2, lineStyle: {color: FRAME}},
      axisLabel: {show: pos === 'left' && c === 0, fontFamily: FONT, fontSize: 12, color: '#333', margin: 3},
      splitLine: {show: false}, minorSplitLine: {show: false}
    });
  });
  const isAll = name === 'all models';
  const cidx = panelColorIdx[i];
  panelSeries[i].forEach((vals, k) => {
    series.push({
      type: 'line', xAxisIndex: 2 * i, yAxisIndex: 2 * i, symbol: 'none', silent: true,
      data: vals.map((v, j) => [panelStart[i] + j * STEP, v]),
      lineStyle: {color: palette[cidx[k % cidx.length]], width: isAll ? 1.6 : 1.1},
      animation: false
    });
  });
  series.push({
    type: 'line', xAxisIndex: 2 * i, yAxisIndex: 2 * i, symbol: 'none', silent: true,
    data: [[X_MIN, THRESHOLD], [X_MAX, THRESHOLD]],
    lineStyle: {color: '#1a1a1a', width: 2}, z: 5, animation: false
  });
  titles.push({
    text: name, right: W - (left + PW), top: top,
    backgroundColor: '#fff', borderColor: FRAME, borderWidth: 1, padding: [1, 3, 0, 4],
    textStyle: {fontFamily: FONT, fontSize: 11.5, fontWeight: 'normal', color: '#333'}
  });
});

const chart = echarts.init(document.getElementById('c'), null, {renderer: 'canvas'});
chart.setOption({
  animation: false,
  backgroundColor: '#fff',
  title: titles,
  grid: grids, xAxis: xAxes, yAxis: yAxes, series: series
});
</script>
</body>
</html>
